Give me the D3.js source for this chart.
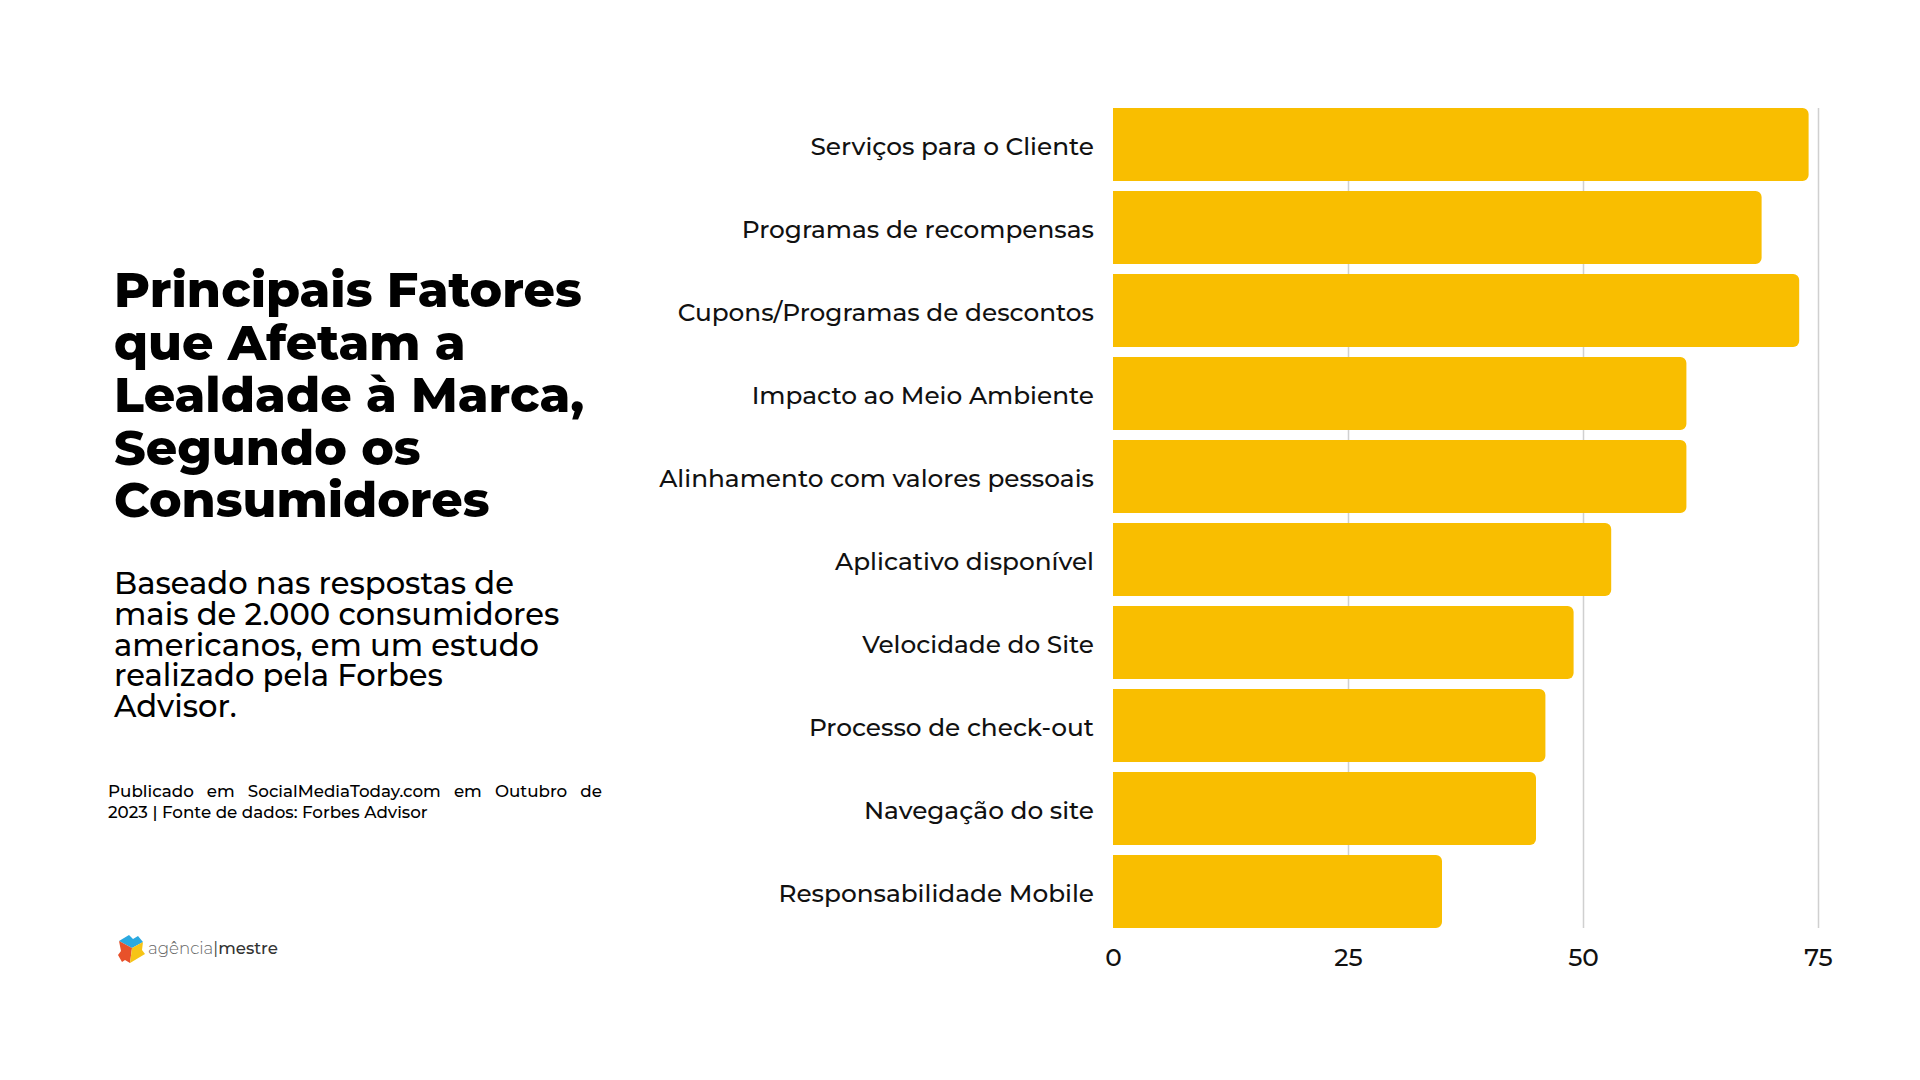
<!DOCTYPE html>
<html>
<head>
<meta charset="utf-8">
<script src="https://cdn.jsdelivr.net/npm/d3@7"></script>
<style>
  html, body { margin: 0; padding: 0; background: #fff; }
  svg { display: block; }
</style>
</head>
<body>
<div id="chart"></div>
<script>
const categories = [
  'Serviços para o Cliente',
  'Programas de recompensas',
  'Cupons/Programas de descontos',
  'Impacto ao Meio Ambiente',
  'Alinhamento com valores pessoais',
  'Aplicativo disponível',
  'Velocidade do Site',
  'Processo de check-out',
  'Navegação do site',
  'Responsabilidade Mobile'
]
const values = [74, 69, 73, 61, 61, 53, 49, 46, 45, 35]
const tickValues = [0, 25, 50, 75]

const titleLines = ['Principais Fatores', 'que Afetam a', 'Lealdade à Marca,', 'Segundo os', 'Consumidores']
const subtitleLines = ['Baseado nas respostas de', 'mais de 2.000 consumidores', 'americanos, em um estudo', 'realizado pela Forbes', 'Advisor.']
const noteLines = ['Publicado em SocialMediaToday.com em Outubro de', '2023 | Fonte de dados: Forbes Advisor']

const W = 1920
const H = 1080
const FONT = "Montserrat, 'DejaVu Sans', sans-serif"
const YELLOW = '#F9BE00'

const svg = d3.select('#chart')
  .append('svg')
  .attr('width', W)
  .attr('height', H)
  .attr('font-family', FONT)

// font size so that a sample string hits a given width
const fitSize = (text, weight, target) => {
  const t = svg.append('text')
    .attr('font-size', 100)
    .attr('font-weight', weight)
    .text(text)
  const w = t.node().getComputedTextLength()
  t.remove()
  return 100 * target / w
}

// ---- left text block
const titleSize = fitSize(titleLines[0], 800, 468)
svg.append('g')
  .selectAll('text')
  .data(titleLines)
  .enter().append('text')
  .attr('x', 114)
  .attr('y', (_, i) => 307 + i * 52.5)
  .attr('font-size', titleSize)
  .attr('font-weight', 800)
  .attr('fill', '#000')
  .text(d => d)

const subSize = fitSize(subtitleLines[0], 500, 400)
svg.append('g')
  .selectAll('text')
  .data(subtitleLines)
  .enter().append('text')
  .attr('x', 114)
  .attr('y', (_, i) => 594 + i * 30.8)
  .attr('font-size', subSize)
  .attr('font-weight', 500)
  .attr('fill', '#000')
  .text(d => d)

// footnote, first line justified
const noteSize = fitSize(noteLines[1], 500, 320)
const noteG = svg.append('g')
  .attr('font-size', noteSize)
  .attr('font-weight', 500)
  .attr('fill', '#000')
const words = noteLines[0].split(' ')
const wordW = words.map(w => {
  const t = noteG.append('text').text(w)
  const len = t.node().getComputedTextLength()
  t.remove()
  return len
})
const gap = (494 - d3.sum(wordW)) / (words.length - 1)
let cx = 108
words.forEach((w, i) => {
  noteG.append('text').attr('x', cx).attr('y', 797).text(w)
  cx += wordW[i] + gap
})
noteG.append('text').attr('x', 108).attr('y', 818).text(noteLines[1])

// ---- logo
const logo = svg.append('g').attr('transform', 'translate(116,933)')
logo.append('path').attr('d', 'M3,8 L13,2 L17,6 L22,3 L27,9 L16,15 Z').attr('fill', '#2AA9E0')
logo.append('path').attr('d', 'M3,8 L16,15 L14,30 L9,27 L6,29 L2,22 L5,18 Z').attr('fill', '#E8512A')
logo.append('path').attr('d', 'M16,15 L27,9 L26,17 L29,21 L19,27 L14,30 Z').attr('fill', '#F6C416')
const logoSize = fitSize('agência|mestre', 400, 130)
const logoText = svg.append('text')
  .attr('x', 148)
  .attr('y', 954)
  .attr('font-size', logoSize)
logoText.append('tspan').attr('fill', '#666').attr('font-weight', 300).text('agência')
logoText.append('tspan').attr('fill', '#444').text('|')
logoText.append('tspan').attr('fill', '#333').attr('font-weight', 500).text('mestre')

// ---- chart
const x = d3.scaleLinear()
  .domain([0, 75])
  .range([1113, 1818])

const y = d3.scaleBand()
  .domain(categories)
  .range([103, 933])
  .paddingInner(0.12)
  .paddingOuter(0.06)

svg.append('g')
  .attr('class', 'grid')
  .attr('transform', 'translate(0,928)')
  .call(d3.axisBottom(x).tickValues(tickValues.slice(1)).tickSize(-820).tickFormat(''))
  .call(g => g.select('.domain').remove())
  .call(g => g.selectAll('line').attr('stroke', '#d0d0d0').attr('stroke-width', 1.5))

const r = 6
const barPath = (x0, x1, y0, h) => {
  const p = d3.path()
  p.moveTo(x0, y0)
  p.lineTo(x1 - r, y0)
  p.arcTo(x1, y0, x1, y0 + r, r)
  p.lineTo(x1, y0 + h - r)
  p.arcTo(x1, y0 + h, x1 - r, y0 + h, r)
  p.lineTo(x0, y0 + h)
  p.closePath()
  return p.toString()
}

svg.append('g')
  .selectAll('path')
  .data(categories)
  .enter().append('path')
  .attr('d', (d, i) => barPath(x(0), x(values[i]), y(d), y.bandwidth()))
  .attr('fill', YELLOW)

const labelSize = fitSize(categories[4], 500, 435)
svg.append('g')
  .attr('transform', `translate(${x(0) - 19},2.5)`)
  .call(d3.axisLeft(y).tickSize(0).tickPadding(0))
  .call(g => g.select('.domain').remove())
  .call(g => g.selectAll('text')
    .attr('font-family', FONT)
    .attr('font-size', labelSize)
    .attr('font-weight', 500)
    .attr('fill', '#111'))

svg.append('g')
  .attr('transform', 'translate(0,948)')
  .call(d3.axisBottom(x).tickValues(tickValues).tickSize(0).tickPadding(0))
  .call(g => g.select('.domain').remove())
  .call(g => g.selectAll('text')
    .attr('font-family', FONT)
    .attr('font-size', labelSize)
    .attr('font-weight', 500)
    .attr('fill', '#111'))
</script>
</body>
</html>
